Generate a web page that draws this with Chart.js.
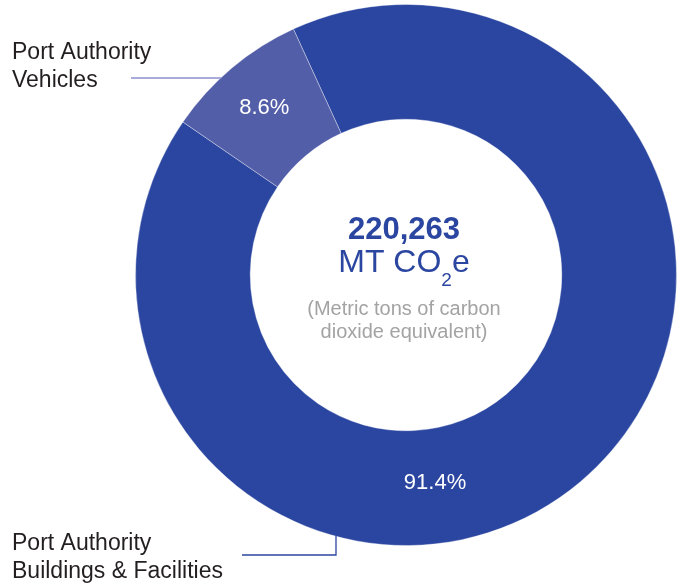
<!DOCTYPE html>
<html>
<head>
<meta charset="utf-8">
<script src="https://cdn.jsdelivr.net/npm/chart.js@4"></script>
<style>
  html, body { margin: 0; padding: 0; background: #ffffff; }
  #wrap { width: 683px; height: 584px; position: relative; }
</style>
</head>
<body>
<div id="wrap"><canvas id="c"></canvas></div>
<script>
// Emission sources and their share of the total (percent)
const categories = ['Port Authority Buildings & Facilities', 'Port Authority Vehicles'];
const categoryLines = [['Port Authority', 'Buildings & Facilities'], ['Port Authority', 'Vehicles']];
const shares = [91.4, 8.6];
const totalEmissions = 220263;
const sliceColors = ['#2b46a0', '#535ea9'];

const FONT = '"Liberation Sans", Arial, Helvetica, sans-serif';

// Point on the ring at a given angle / radius
function polar(arc, angle, r) {
  return { x: arc.x + Math.cos(angle) * r, y: arc.y + Math.sin(angle) * r };
}

const annotations = {
  id: 'annotations',
  afterDatasetsDraw(chart, args, opts) {
    const ctx = chart.ctx;
    const arcs = chart.getDatasetMeta(0).data;
    const ds = chart.data.datasets[0];

    // percentage labels inside the slices
    ctx.save();
    ctx.fillStyle = '#ffffff';
    ctx.font = '22px ' + FONT;
    ctx.textAlign = 'center';
    ctx.textBaseline = 'middle';
    arcs.forEach((arc, i) => {
      const p = arc.getProps(['x', 'y', 'startAngle', 'endAngle', 'innerRadius', 'outerRadius'], true);
      const a = p.startAngle + (p.endAngle - p.startAngle) * opts.along[i];
      const r = p.innerRadius + (p.outerRadius - p.innerRadius) * opts.depth[i];
      const pt = polar(p, a, r);
      ctx.fillText(ds.data[i].toFixed(1) + '%', pt.x, pt.y + 1);
    });
    ctx.restore();

    const ring = arcs[0].getProps(['x', 'y', 'outerRadius'], true);
    const R = ring.outerRadius;

    // leader line: vehicles (horizontal, meets the outer edge)
    ctx.save();
    ctx.lineWidth = 1.3;
    ctx.strokeStyle = '#8b90cc';
    const vy = 78;
    const vx = ring.x - Math.sqrt(R * R - (vy - ring.y) * (vy - ring.y));
    ctx.beginPath();
    ctx.moveTo(131, vy);
    ctx.lineTo(vx + 1, vy);
    ctx.stroke();

    // leader line: buildings (elbow up to the bottom edge)
    ctx.strokeStyle = '#2b46a0';
    const bx = 336, by = 555;
    const byEdge = ring.y + Math.sqrt(R * R - (bx - ring.x) * (bx - ring.x));
    ctx.beginPath();
    ctx.moveTo(242, by);
    ctx.lineTo(bx, by);
    ctx.lineTo(bx, byEdge - 1);
    ctx.stroke();
    ctx.restore();

    // category names
    ctx.save();
    ctx.fillStyle = '#231f20';
    ctx.font = '23px ' + FONT;
    ctx.textAlign = 'left';
    ctx.textBaseline = 'alphabetic';
    const vLines = categoryLines[1];
    ctx.fillText(vLines[0], 12, 58.5);
    ctx.fillText(vLines[1], 12, 87);
    const bLines = categoryLines[0];
    ctx.fillText(bLines[0], 12, 550);
    ctx.fillText(bLines[1], 12, 577.5);
    ctx.restore();

    // centre summary
    const cx = ring.x - 2;
    ctx.save();
    ctx.textBaseline = 'alphabetic';
    ctx.textAlign = 'center';
    ctx.fillStyle = '#2b46a0';
    ctx.font = 'bold 31px ' + FONT;
    ctx.fillText(totalEmissions.toLocaleString('en-US'), cx, 239);

    // "MT CO2e" with a subscript 2
    const mainFont = '32px ' + FONT, subFont = '19px ' + FONT;
    ctx.font = mainFont;
    const w1 = ctx.measureText('MT CO').width;
    const w3 = ctx.measureText('e').width;
    ctx.font = subFont;
    const w2 = ctx.measureText('2').width;
    let x0 = cx - (w1 + w2 + w3) / 2;
    ctx.textAlign = 'left';
    ctx.font = mainFont;
    ctx.fillText('MT CO', x0, 272);
    ctx.font = subFont;
    ctx.fillText('2', x0 + w1, 286);
    ctx.font = mainFont;
    ctx.fillText('e', x0 + w1 + w2, 272);

    ctx.textAlign = 'center';
    ctx.fillStyle = '#a3a3a3';
    ctx.font = '20px ' + FONT;
    ctx.fillText('(Metric tons of carbon', cx, 315);
    ctx.fillText('dioxide equivalent)', cx, 338);
    ctx.restore();
  }
};

new Chart(document.getElementById('c'), {
  type: 'doughnut',
  data: {
    labels: categories,
    datasets: [{
      data: shares,
      backgroundColor: sliceColors,
      borderColor: 'rgba(255,255,255,0.35)',
      borderWidth: 1,
      hoverOffset: 0
    }]
  },
  options: {
    responsive: true,
    maintainAspectRatio: false,
    animation: false,
    rotation: -24.6,
    cutout: '57.6%',
    layout: { padding: { left: 135, right: 6, top: 4, bottom: 38 } },
    plugins: {
      legend: { display: false },
      tooltip: { enabled: false },
      annotations: { along: [0.5975, 0.5], depth: [0.46, 0.56] }
    }
  },
  plugins: [annotations]
});
</script>
</body>
</html>
